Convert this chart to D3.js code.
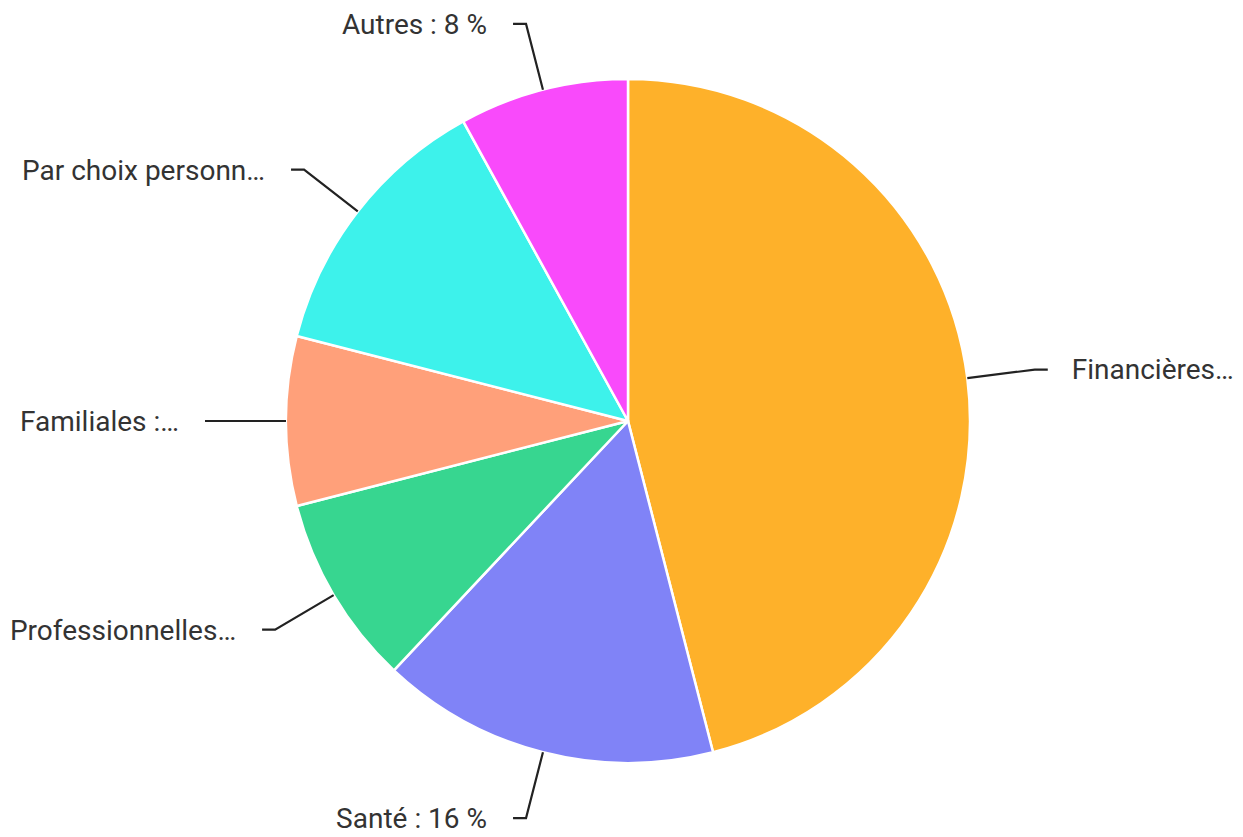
<!DOCTYPE html>
<html>
<head>
<meta charset="utf-8">
<script src="https://cdn.jsdelivr.net/npm/d3@7"></script>
<style>
html,body{margin:0;padding:0;background:#fff;}
svg{display:block;}
</style>
</head>
<body>
<svg id="chart" width="1243" height="837"></svg>
<script>
const categories = ["Financières", "Santé", "Professionnelles", "Familiales", "Par choix personnel", "Autres"];
const values = [46, 16, 9, 8, 13, 8];
const labels = ["Financières…", "Santé : 16 %", "Professionnelles…", "Familiales :…", "Par choix personn…", "Autres : 8 %"];
const colors = ["#FEB12A", "#8083F7", "#37D690", "#FFA07A", "#3DF2EB", "#F94AFB"];

const svg = d3.select("#chart");
const cx = 628, cy = 421, r = 342;
const g = svg.append("g").attr("transform", `translate(${cx},${cy})`);

const data = categories.map((c, i) => ({cat: c, value: values[i], label: labels[i], color: colors[i]}));
const pie = d3.pie().value(d => d.value).sort(null);
const arcs = pie(data);
const arc = d3.arc().innerRadius(0).outerRadius(r);

g.selectAll("path.slice").data(arcs).join("path")
  .attr("class", "slice")
  .attr("d", arc)
  .attr("fill", d => d.data.color)
  .attr("stroke", "#fff")
  .attr("stroke-width", 2.5)
  .attr("stroke-linejoin", "round");

const pt = (a, rr) => [rr * Math.sin(a), -rr * Math.cos(a)];
const lineG = g.append("g");
arcs.forEach(d => {
  const m = (d.startAngle + d.endAngle) / 2;
  const p0 = pt(m, r);
  const p1 = pt(m, 410);
  const right = Math.sin(m) > 0;
  const p2 = [p1[0] + (right ? 13 : -13), p1[1]];
  lineG.append("path")
    .attr("d", d3.line()([p0, p1, p2]))
    .attr("fill", "none")
    .attr("stroke", "#222")
    .attr("stroke-width", 2.2);
  g.append("text")
    .attr("x", p2[0] + (right ? 24 : -26))
    .attr("y", p1[1])
    .attr("dy", "0.35em")
    .attr("text-anchor", right ? "start" : "end")
    .attr("font-family", "Roboto, Arial, sans-serif")
    .attr("font-size", 28)
    .attr("fill", "#333")
    .text(d.data.label);
});
</script>
</body>
</html>
